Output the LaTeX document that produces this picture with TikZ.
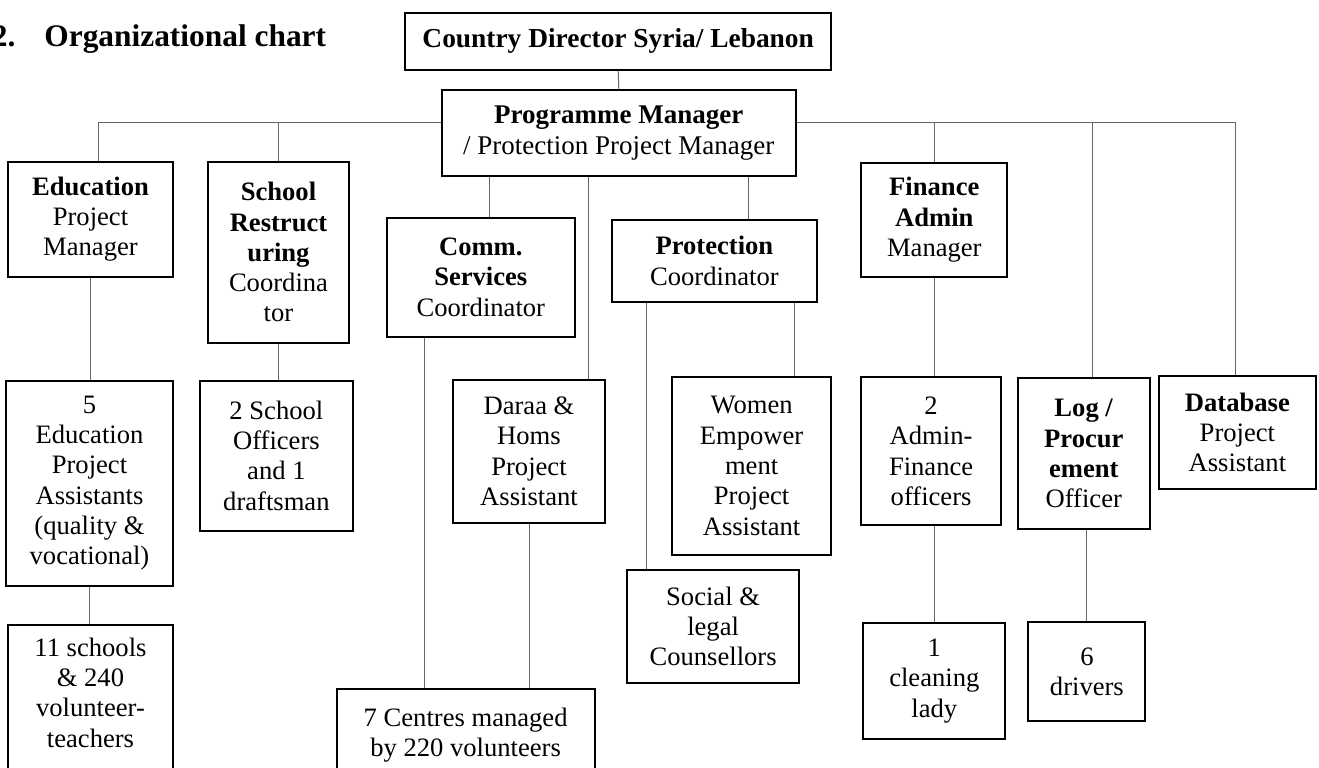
\documentclass[tikz,border=0pt]{standalone}
\usepackage{fontspec}
\setmainfont{Liberation Serif}

\begin{document}
\begin{tikzpicture}[x=0.5pt,y=-0.5pt,
    box/.style={draw,line width=1pt,align=center,inner sep=2pt,font=\fontsize{13.3}{15.15}\selectfont},
    wh/.style 2 args={minimum width=#1*0.5pt,minimum height=#2*0.5pt},
    link/.style={draw=black!60,line width=0.5pt}]
            \useasboundingbox (0,0) rectangle (1319,767);
            \clip (0,0) rectangle (1319,767);
            \node[anchor=base west,inner sep=0,font=\fontsize{15.7}{18}\selectfont\bfseries] (title) at (44,46) {\llap{2.\hspace{14.5pt}}Organizational chart};
            \node[box,wh={426.3}{57.3},font=\fontsize{13.7}{15.5}\selectfont] (cd) at (618.2,41.4) {\textbf{Country Director Syria/ Lebanon}};
            \node[box,wh={353.6}{85.7},font=\fontsize{13.5}{15.8}\selectfont] (pm) at (618.8,132.9) {\textbf{Programme Manager}\\/ Protection Project Manager};
            \node[box,wh={164.2}{115}] (edu) at (90.5,219.2) {\textbf{Education}\\Project\\Manager};
            \node[box,wh={141.8}{181}] (school) at (278.5,252.2) {\textbf{School}\\\textbf{Restruct}\\\textbf{uring}\\Coordina\\tor};
            \node[box,wh={188.6}{119}] (comm) at (480.8,277.2) {\textbf{Comm.}\\\textbf{Services}\\Coordinator};
            \node[box,wh={205.3}{81.7}] (prot) at (714.4,260.9) {\textbf{Protection}\\Coordinator};
            \node[box,wh={146.1}{114}] (fin) at (934.3,219.7) {\textbf{Finance}\\\textbf{Admin}\\Manager};
            \node[box,wh={166.3}{205}] (eduass) at (89.5,483.2) {5\\Education\\Project\\Assistants\\(quality \&\\vocational)};
            \node[box,wh={152.8}{150}] (officers) at (276.4,455.7) {2 School\\Officers\\and 1\\draftsman};
            \node[box,wh={152.8}{142.7}] (daraa) at (529,451.4) {Daraa \&\\Homs\\Project\\Assistant};
            \node[box,wh={159.5}{178.3}] (women) at (751.6,465.9) {Women\\Empower\\ment\\Project\\Assistant};
            \node[box,wh={139.8}{147.7}] (admin) at (931.1,451.2) {2\\Admin-\\Finance\\officers};
            \node[box,wh={131.7}{150.7}] (log) at (1083.8,453.7) {\textbf{Log /}\\\textbf{Procur}\\\textbf{ement}\\Officer};
            \node[box,wh={157}{113}] (dbase) at (1237.4,432.5) {\textbf{Database}\\Project\\Assistant};
            \node[box,wh={171.6}{112.7}] (social) at (713.1,626.4) {Social \&\\legal\\Counsellors};
            \node[box,wh={141.9}{116.3}] (clean) at (934.3,680.9) {1\\cleaning\\lady};
            \node[box,wh={117}{98.7}] (drivers) at (1086.9,671.7) {6\\drivers};
            \node[box,anchor=north,minimum width=164.2*0.5pt,inner ysep=6.25pt] (schools) at (90.5,624.3) {11 schools\\\& 240\\volunteer-\\teachers\\[40pt]};
            \node[box,anchor=north,minimum width=257.7*0.5pt,inner ysep=9.25pt] (centres) at (465.65,688.3) {7 Centres managed\\by 220 volunteers\\[40pt]};
            \coordinate (busL) at (98.1,122.7);
            \coordinate (busR) at (1235.5,122.7);
            \coordinate (logdrop) at (1092.8,122.7);
            \draw[link] (cd.south) -- (pm.north);
            \draw[link] (busL) -- (busL -| pm.west);
            \draw[link] (pm.east |- busR) -- (busR);
            \draw[link] (busL) -- (busL |- edu.north);
            \draw[link] (busR) -- (busR |- dbase.north);
            \draw[link] (logdrop) -- (logdrop |- log.north);
            \foreach \n in {school,fin}{
                \draw[link] (\n.north |- busL) -- (\n.north);
            }
            \foreach \x/\n in {489.6/comm,588.1/daraa,748.4/prot}{
                \draw[link] (\x,0 |- pm.south) -- (\x,0 |- \n.north);
            }
            \foreach \a/\b in {edu/eduass,school/officers,eduass/schools,daraa/centres,fin/admin}{
                \draw[link] (\a.south) -- (\a.south |- \b.north);
            }
            \foreach \a/\b in {admin/clean,log/drivers}{
                \draw[link] (\b.north |- \a.south) -- (\b.north);
            }
            \foreach \x/\a/\b in {424/comm/centres,646.2/prot/social,794.7/prot/women}{
                \draw[link] (\x,0 |- \a.south) -- (\x,0 |- \b.north);
            }
        \end{tikzpicture}
\end{document}
